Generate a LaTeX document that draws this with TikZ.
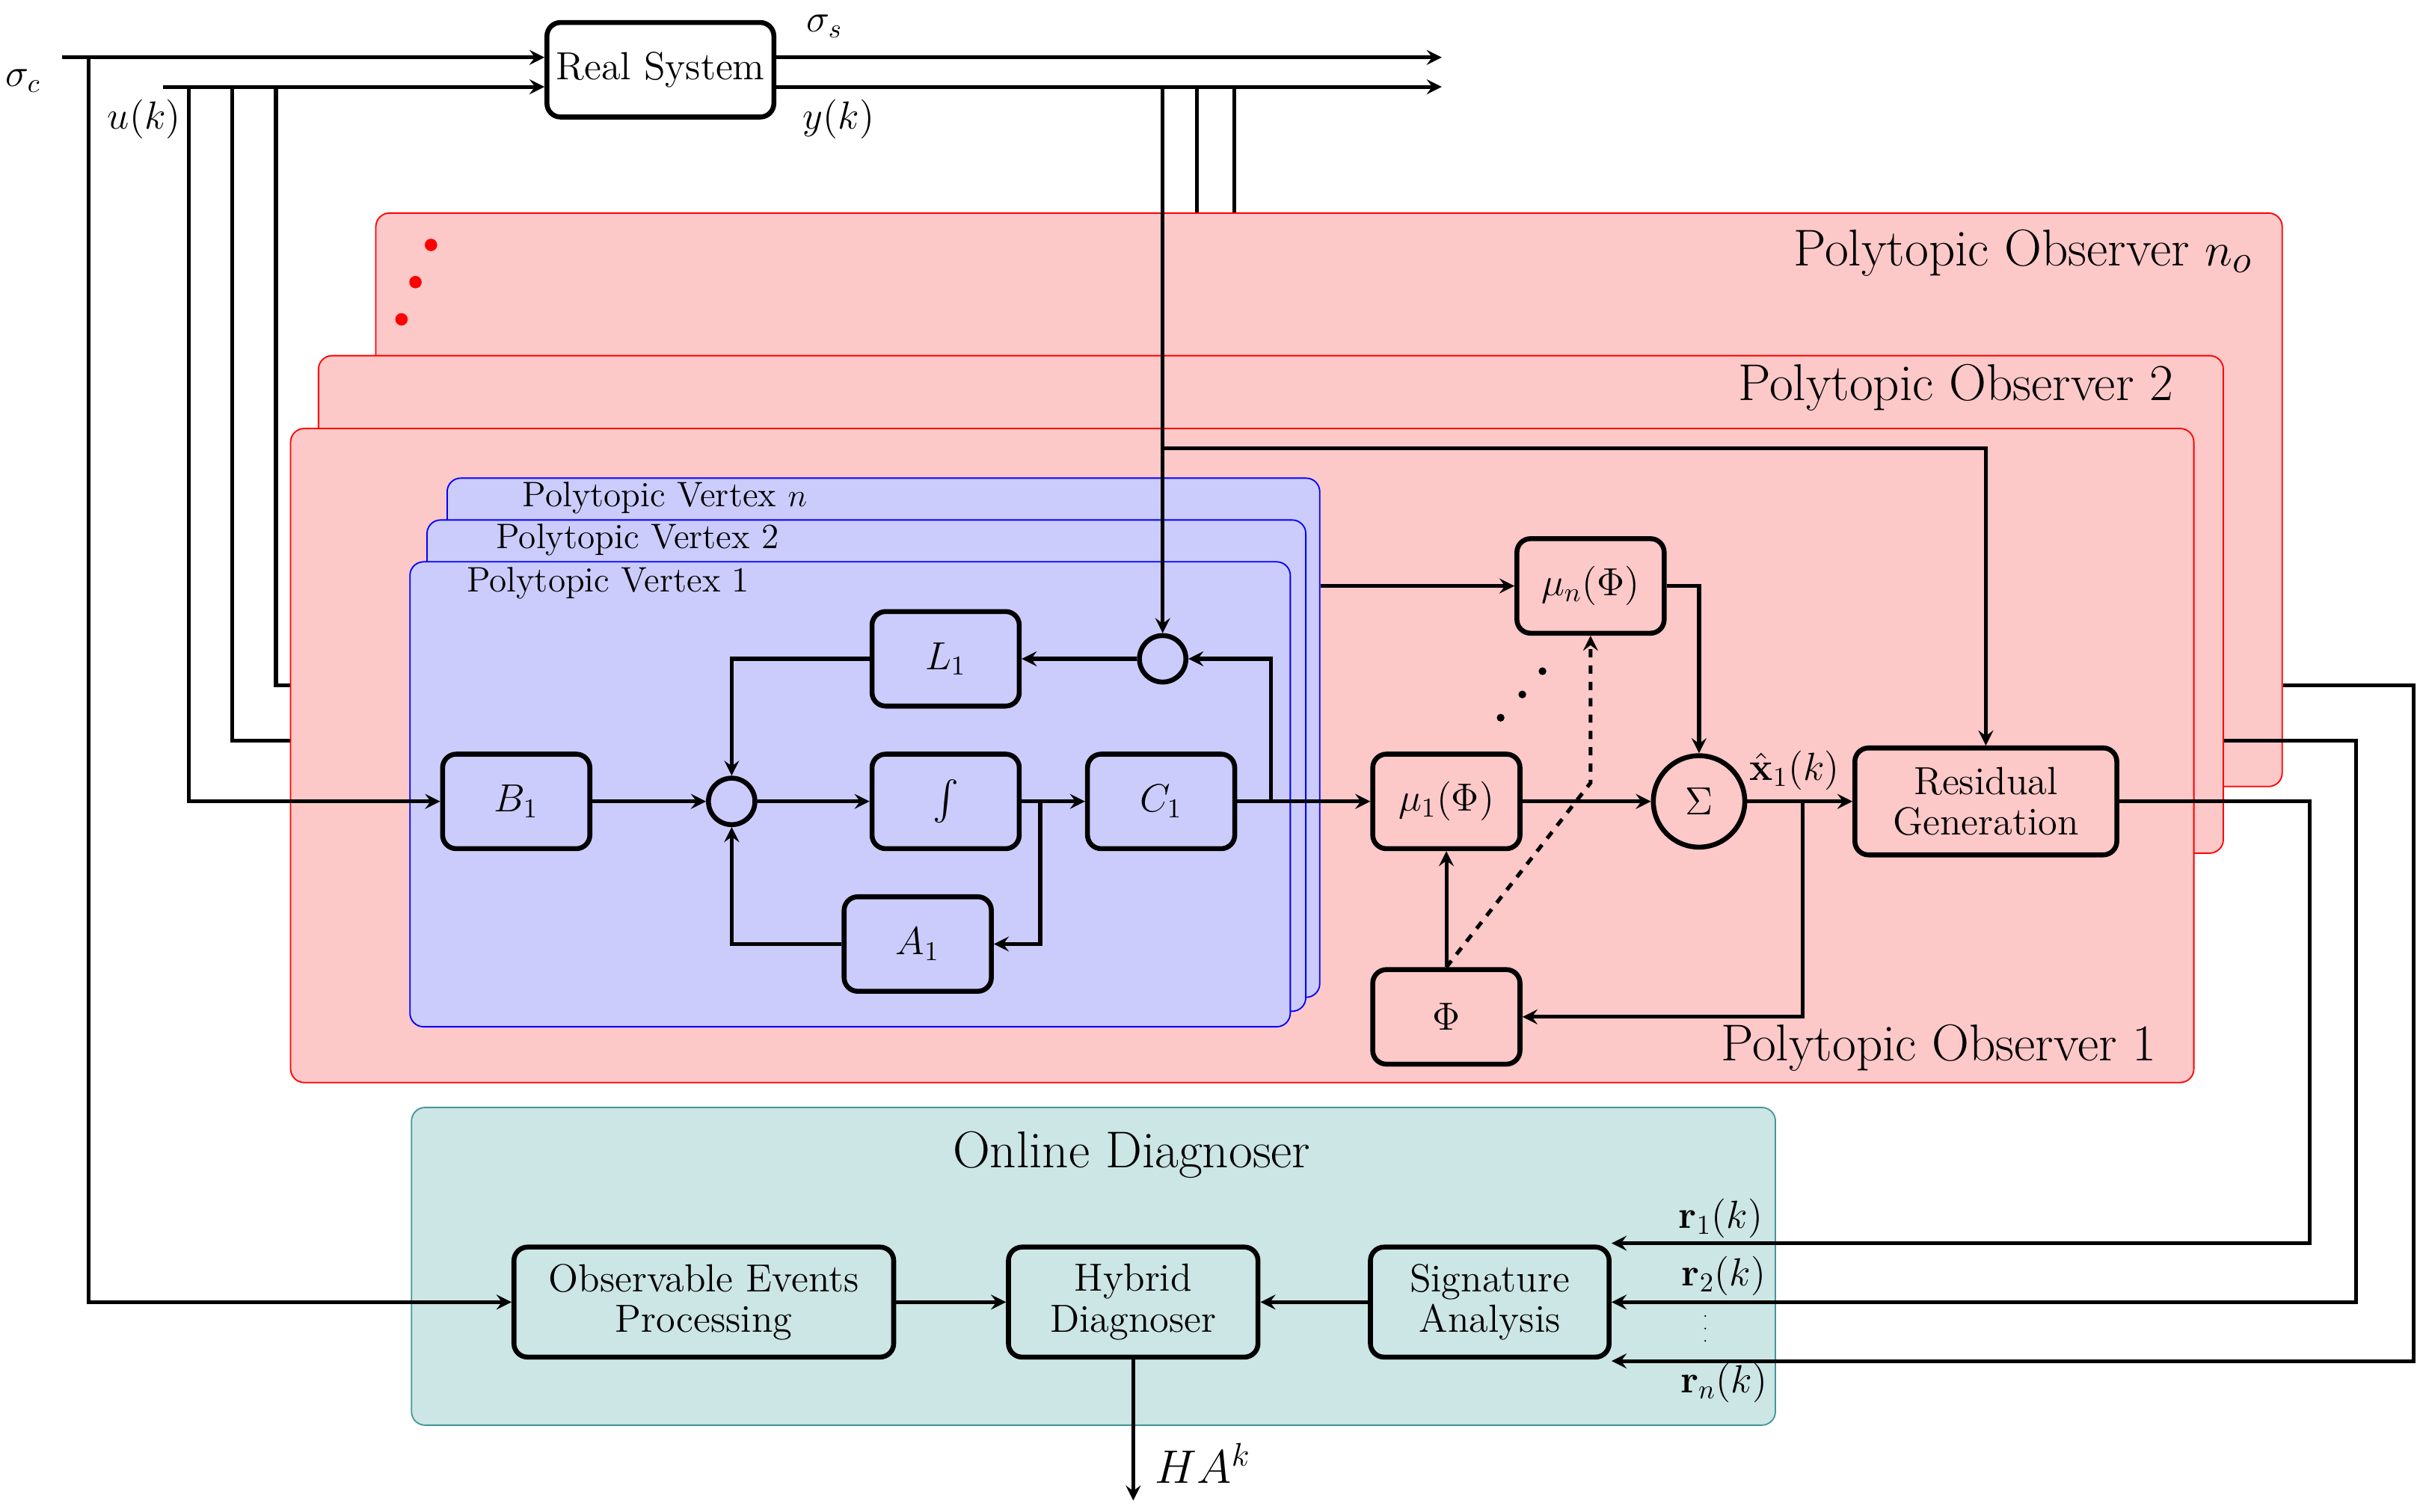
\documentclass[tikz,border=0pt]{standalone}
\usepackage{amsmath}
\usetikzlibrary{positioning, arrows}

\definecolor{obsred}{RGB}{252,200,200}
\definecolor{vertblue}{RGB}{204,204,252}
\definecolor{diagteal}{RGB}{204,229,229}
\definecolor{tealline}{RGB}{70,150,150}

\tikzset{
    block/.style={draw, line width=1.8pt, rounded corners=5pt, minimum width=1.9cm, minimum height=1.22cm, font=\Large, align=center},
    sumc/.style={draw, circle, line width=1.8pt, inner sep=0pt},
    observer/.style={draw=red, fill=obsred, rounded corners=5pt, line width=0.5pt},
    vertex/.style={draw=blue, fill=vertblue, rounded corners=5pt, line width=0.5pt},
    title/.style={anchor=east, font=\fontsize{19}{22}\selectfont},
    vtitle/.style={anchor=west, font=\fontsize{13}{15}\selectfont},
    sig/.style={line width=1.4pt},
}

\begin{document}
\begin{tikzpicture}[x=0.02cm, y=-0.02cm, >=stealth, sig]
    \useasboundingbox (0,0) rectangle (1563,975);

    % real system and its signals
    \node (rs) [block, minimum width=2.8cm] at (426,45) {Real System};
    \coordinate (sc) at (40,37);
    \coordinate (uk) at (105,56);
    \coordinate (sso) at (930,37);
    \coordinate (yko) at (930,56);
    \draw[->] (sc) -- (sc -| rs.west);
    \draw[->] (uk) -- (uk -| rs.west);
    \draw[->] (rs.east |- sso) -- (sso);
    \draw[->] (rs.east |- yko) -- (yko);
    \node at (15,52) {\Large $\sigma_c$};
    \node at (93,77) {\Large $u(k)$};
    \node at (532,17) {\Large $\sigma_s$};
    \node at (541,77) {\Large $y(k)$};

    % lines passing behind the observers
    \draw (150,56) |- (190,478);
    \draw (178,56) |- (190,442);
    \draw (772,56) -- (772,232);
    \draw (796,56) -- (796,140);

    % observers
    \node (obsn) [observer, minimum width=24.6cm, minimum height=7.4cm, anchor=north west] at (242,137) {};
    \node (obs2) [observer, minimum width=24.58cm, minimum height=6.42cm, anchor=north west] at (205,229) {};
    \node (obs1) [observer, minimum width=24.56cm, minimum height=8.44cm, anchor=north west] at (187,276) {};
    \node [title] at (1460,163) {Polytopic Observer $n_o$};
    \node [title] at (1409,250) {Polytopic Observer 2};
    \node [title] at (1398,676) {Polytopic Observer 1};
    \foreach \p in {(278,158),(268,182),(259,206)}
        \fill[red] \p circle (4);

    % vertices
    \node (vxn) [vertex, minimum width=11.26cm, minimum height=6.7cm, anchor=north west] at (288,308) {};
    \node (vx2) [vertex, minimum width=11.34cm, minimum height=6.34cm, anchor=north west] at (275,335) {};
    \node (vx1) [vertex, minimum width=11.36cm, minimum height=6cm, anchor=north west] at (264,362) {};
    \node [vtitle] at (330,321) {Polytopic Vertex $n$};
    \node [vtitle] at (313,348) {Polytopic Vertex 2};
    \node [vtitle] at (294,376) {Polytopic Vertex 1};

    % blocks of the vertex
    \node (b1) [block] at (333,517) {$B_1$};
    \node (s1) [sumc, minimum size=0.6cm] at (472,517) {};
    \node (int) [block] at (610,517) {$\int$};
    \node (c1) [block] at (749,517) {$C_1$};
    \node (l1) [block] at (610,425) {$L_1$};
    \node (a1) [block] at (592,609) {$A_1$};
    \node (s2) [sumc, minimum size=0.6cm] at (750,425) {};

    % blocks of the observer
    \node (mun) [block] at (1026,378) {$\mu_n(\Phi)$};
    \node (mu1) [block] at (933,517) {$\mu_1(\Phi)$};
    \node (sig) [sumc, minimum size=1.18cm, font=\Large] at (1096,517) {$\Sigma$};
    \node (res) [block, minimum width=3.38cm, minimum height=1.38cm] at (1281,517) {Residual\\[-3pt]Generation};
    \node (phi) [block] at (933,656) {$\Phi$};

    % vertex wiring
    \draw[->] (122,56) |- (b1);
    \draw[->] (b1) -- (s1);
    \draw[->] (s1) -- (int);
    \draw[->] (int) -- (c1);
    \draw[->] (671,517) |- (a1.east);
    \draw[->] (a1.west) -| (s1.south);
    \draw[->] (c1) -- (mu1);
    \draw[->] (820,517) |- (s2.east);
    \draw[->] (s2) -- (l1);
    \draw[->] (l1.west) -| (s1.north);
    \draw[->] (750,56) -- (s2.north);

    % observer wiring
    \draw[->] (vxn.east |- mun) -- (mun);
    \draw[->] (mun.east) -| (sig.north);
    \draw[->] (mu1) -- (sig);
    \draw[->] (sig) -- node[above, pos=0.45] {\Large $\hat{\mathbf{x}}_1(k)$} (res);
    \draw[->] (1163,517) |- (phi.east);
    \draw[->] (phi) -- (mu1);
    \draw[->, dashed] (phi.north) -- (1026,505) -- (mun.south);
    \draw[->] (750,289) -| (res.north);
    \foreach \p in {(968,463),(982,448),(995,433)}
        \fill \p circle (2.5);

    % online diagnoser
    \node (diag) [draw=tealline, fill=diagteal, rounded corners=5pt, line width=0.5pt, minimum width=17.6cm, minimum height=4.1cm, anchor=north west] at (265,714) {};
    \node [font=\fontsize{19}{22}\selectfont] at (730,745) {Online Diagnoser};
    \node (oep) [block, minimum width=4.9cm, minimum height=1.42cm] at (454,840) {Observable Events\\[-3pt]Processing};
    \node (hd) [block, minimum width=3.22cm, minimum height=1.42cm] at (731,840) {Hybrid\\[-3pt]Diagnoser};
    \node (sa) [block, minimum width=3.08cm, minimum height=1.42cm] at (961,840) {Signature\\[-3pt]Analysis};
    \coordinate (hak) at (731,968);
    \draw[->] (57,37) |- (oep);
    \draw[->] (oep) -- (hd);
    \draw[->] (sa) -- (hd);
    \draw[->] (hd) -- (hak);
    \node at (776,944) {\LARGE $HA^k$};

    % residuals
    \draw[->] (res.east) -| (1490,802) -- (sa.east |- 0,802);
    \draw[->] (obs2.east |- 0,478) -| (1520,840) -- (sa.east |- 0,840);
    \draw[->] (obsn.east |- 0,442) -| (1557,878) -- (sa.east |- 0,878);
    \node at (1110,786) {\Large $\mathbf{r}_1(k)$};
    \node at (1112,823) {\Large $\mathbf{r}_2(k)$};
    \node at (1112,892) {\Large $\mathbf{r}_n(k)$};
    \foreach \y in {849,857,865}
        \fill (1100,\y) circle (0.6);
\end{tikzpicture}
\end{document}
